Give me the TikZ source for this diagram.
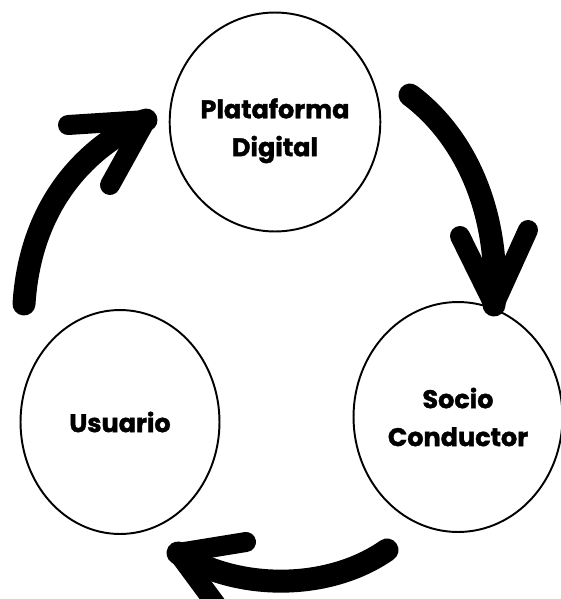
\documentclass[tikz,border=0pt]{standalone}
\usepackage{fontspec}
\setmainfont{Poppins}[BoldFeatures={FakeBold=1.5}]
\usetikzlibrary{shapes.geometric}
\begin{document}
\begin{tikzpicture}[x=0.02cm,y=-0.02cm]
  \tikzstyle{actor}=[draw, ellipse, line width=1.1pt, inner sep=0pt, align=center,
    font=\fontsize{14.5}{21.6}\selectfont\bfseries]
  \tikzstyle{stroke}=[line width=0.46cm, line cap=round, line join=round]
  \tikzstyle{barb}=[line width=0.4cm, line cap=round]

  \clip (0,0) rectangle (561,599);

  \node[actor, minimum width=3.9cm, minimum height=4.38cm] (plat) at (275,122) {\rule{0pt}{0.75cm}Plataforma\\Digital};
  \node[actor, minimum width=3.98cm, minimum height=4.48cm] (user) at (120,422) {Usuario};
  \node[actor, minimum width=4.18cm, minimum height=4.6cm] (socio) at (458,417) {Socio\\Conductor};

  % usuario -> plataforma
  \coordinate (a1s) at (24,304);
  \coordinate (a1t) at (146,120);
  \draw[stroke] (a1s) .. controls (30,210) and (80,150) .. (a1t);
  \draw[barb] (a1t) -- (68,125);
  \draw[barb] (a1t) -- (110,185);

  % plataforma -> socio
  \coordinate (a2s) at (410,95);
  \coordinate (a2t) at (494,305);
  \draw[stroke] (a2s) .. controls (470,140) and (500,220) .. (a2t);
  \draw[barb] (a2t) -- (460,236);
  \draw[barb] (a2t) -- (528,230);

  % socio -> usuario
  \coordinate (a3s) at (387,550);
  \coordinate (a3t) at (178,553);
  \draw[stroke] (a3s) .. controls (330,590) and (240,592) .. (a3t);
  \draw[barb] (a3t) -- (246,542);
  \draw[barb] (a3t) -- (226,618);
\end{tikzpicture}
\end{document}
